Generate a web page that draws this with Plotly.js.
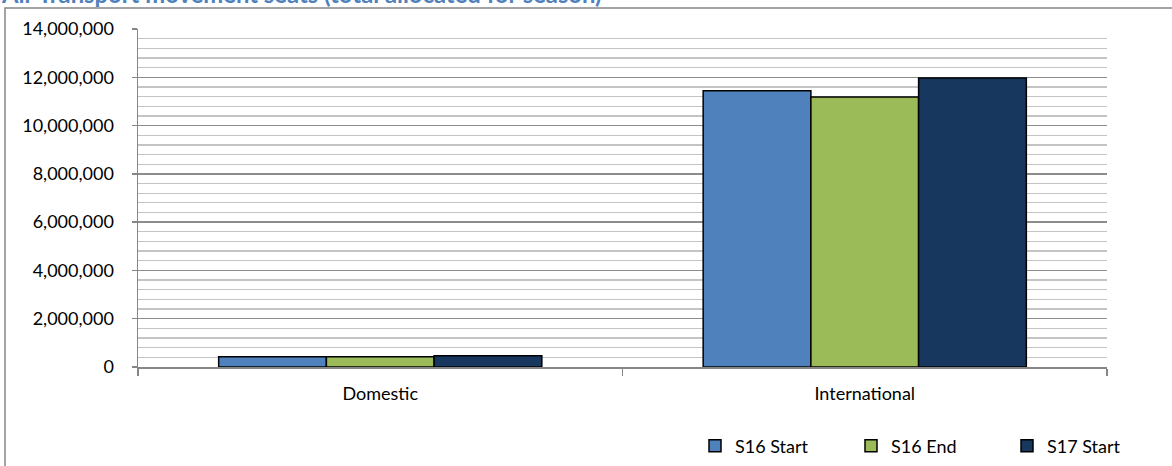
<!DOCTYPE html>
<html>
<head>
<meta charset="utf-8">
<script src="https://cdn.plot.ly/plotly-3.0.1.min.js"></script>
<style>
  html, body { margin: 0; padding: 0; background: #fff; }
  #chart { width: 1172px; height: 466px; }
</style>
</head>
<body>
<div id="chart"></div>
<script>
const categories = ["Domestic", "International"];
const seriesNames = ["S16 Start", "S16 End", "S17 Start"];
const s16Start = [420000, 11440000];
const s16End = [420000, 11180000];
const s17Start = [470000, 11970000];
const seriesColors = ["#4F81BD", "#9BBB59", "#17375E"];
const titleText = "Air Transport movement seats (total allocated for season)";

const values = [s16Start, s16End, s17Start];
const traces = values.map((v, i) => ({
  type: "bar",
  name: seriesNames[i],
  x: categories,
  y: v,
  marker: { color: seriesColors[i], line: { color: "#000000", width: 1.5 } },
  hoverinfo: "skip"
}));

const W = 1172, H = 466;
const mL = 138, mR = 65, mT = 29, mB = 99;
const pw = W - mL - mR, ph = H - mT - mB;
const px = p => (p - mL) / pw;
const py = p => (H - mB - p) / ph;

const font = "Lato, 'Noto Sans', sans-serif";

const layout = {
  width: W, height: H,
  margin: { l: mL, r: mR, t: mT, b: mB, pad: 0, autoexpand: false },
  paper_bgcolor: "#ffffff",
  plot_bgcolor: "#ffffff",
  font: { family: font, size: 18, color: "#000000" },
  annotations: [{
    text: "<b>" + titleText + "</b>",
    font: { family: font, size: 23.8, color: "#4F81BD" },
    xref: "paper", yref: "paper",
    x: px(0), xanchor: "left",
    y: py(9), yanchor: "bottom",
    showarrow: false,
    borderpad: 0
  }],
  barmode: "group",
  bargap: 0.333,
  bargroupgap: 0,
  showlegend: true,
  legend: {
    orientation: "h",
    xref: "container", yref: "container",
    x: 695 / W, xanchor: "left",
    y: 1 - 446 / H, yanchor: "middle",
    font: { family: font, size: 18, color: "#000000" },
    entrywidth: 111,
    entrywidthmode: "pixels",
    traceorder: "normal",
    bgcolor: "rgba(0,0,0,0)"
  },
  xaxis: {
    type: "category",
    showline: true, linecolor: "#868686", linewidth: 1.5,
    ticks: "outside", tickson: "boundaries", ticklen: 7, tickcolor: "#868686", tickwidth: 1.5,
    showgrid: false,
    ticklabelstandoff: 10,
    tickfont: { family: font, size: 18, color: "#000000" },
    automargin: false,
    fixedrange: true
  },
  yaxis: {
    range: [0, 14000000],
    dtick: 2000000,
    tick0: 0,
    tickformat: ",d",
    showline: true, linecolor: "#868686", linewidth: 1.5,
    ticks: "outside", ticklen: 5, tickcolor: "#868686", tickwidth: 1.5,
    showgrid: true, gridcolor: "#8C8C8C", gridwidth: 1.3,
    minor: { dtick: 400000, tick0: 0, showgrid: true, gridcolor: "#C4C4C4", gridwidth: 1.3, ticks: "" },
    zeroline: false,
    ticklabelstandoff: 14,
    tickfont: { family: font, size: 18, color: "#000000" },
    automargin: false,
    fixedrange: true
  },
  shapes: [{
    type: "rect", xref: "paper", yref: "paper",
    x0: px(5), x1: px(1300), y0: py(600), y1: py(8),
    line: { color: "#868686", width: 1.5 },
    fillcolor: "rgba(0,0,0,0)",
    layer: "below"
  }]
};

Plotly.newPlot("chart", traces, layout, { displayModeBar: false, staticPlot: true });
</script>
</body>
</html>
